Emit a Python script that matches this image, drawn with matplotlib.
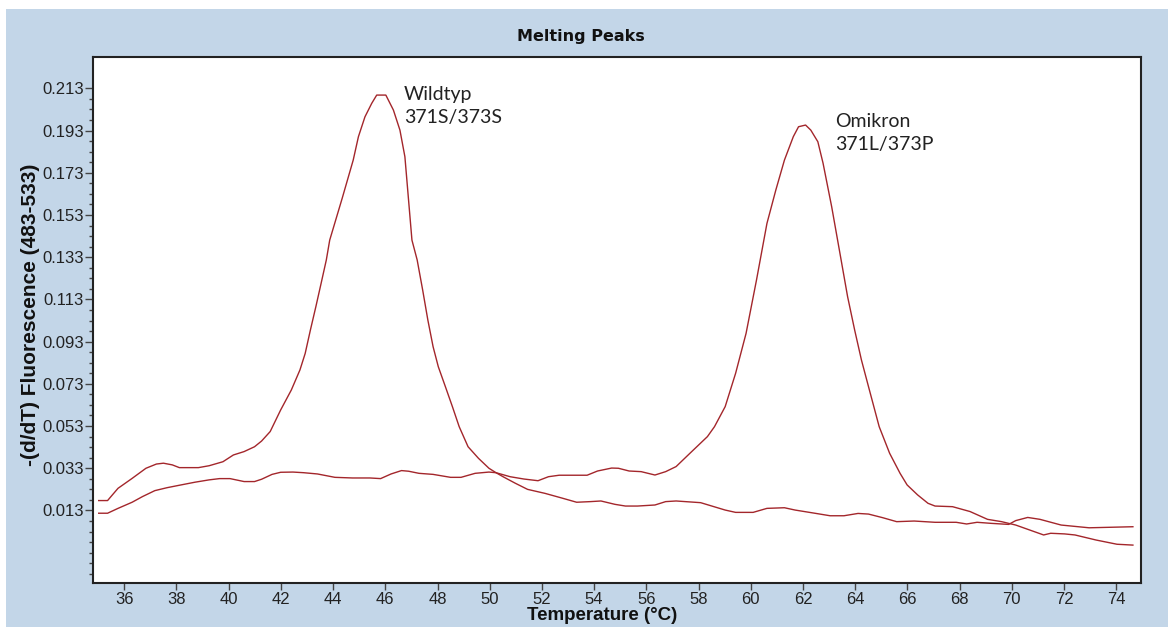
import matplotlib
matplotlib.use("Agg")
import matplotlib.pyplot as plt
from matplotlib import font_manager
from matplotlib.patches import Rectangle
from matplotlib.ticker import FixedLocator, NullFormatter

# ---------------- data ----------------
wild_x = [35.02, 35.36, 35.49, 35.76, 36.30, 36.83, 37.23, 37.50, 37.84, 38.11, 38.84, 39.25,
          39.78, 40.18, 40.59, 40.99, 41.26, 41.59, 41.99, 42.40, 42.73, 42.93, 43.13, 43.34,
          43.54, 43.74, 43.87, 44.35, 44.77, 44.97, 45.22, 45.48, 45.67, 46.02, 46.31, 46.56, 46.75,
          47.02, 47.22, 47.43, 47.63, 47.83, 48.03, 48.30, 48.57, 48.83, 49.17, 49.57, 49.97,
          50.24, 50.51, 50.98, 51.45, 52.12, 52.79, 53.33, 53.86, 54.26, 54.80, 55.20, 55.66,
          56.33, 56.74, 57.14, 58.08, 59.02, 59.42, 60.09, 60.62, 61.29, 61.70, 62.50, 63.04,
          63.57, 64.11, 64.51, 65.05, 65.59, 66.26, 67.06, 67.87, 68.27, 68.67, 69.21, 69.88,
          70.15, 70.61, 71.08, 71.89, 72.96, 74.64]
wild_y = [0.0177, 0.0177, 0.0196, 0.0235, 0.0282, 0.0330, 0.0350, 0.0354, 0.0346, 0.0333, 0.0333, 0.0342,
          0.0361, 0.0393, 0.0409, 0.0432, 0.0459, 0.0504, 0.0606, 0.0701, 0.0796, 0.0874, 0.0985, 0.1096,
          0.1206, 0.1317, 0.1411, 0.1610, 0.1790, 0.1901, 0.1995, 0.2059, 0.2098, 0.2098, 0.2027, 0.1932, 0.1806,
          0.1411, 0.1317, 0.1175, 0.1032, 0.0906, 0.0811, 0.0717, 0.0622, 0.0527, 0.0432, 0.0377, 0.0330,
          0.0309, 0.0290, 0.0259, 0.0230, 0.0211, 0.0188, 0.0169, 0.0172, 0.0175, 0.0159, 0.0151, 0.0151,
          0.0156, 0.0172, 0.0175, 0.0167, 0.0132, 0.0121, 0.0121, 0.0140, 0.0143, 0.0132, 0.0116, 0.0105,
          0.0105, 0.0116, 0.0113, 0.0096, 0.0077, 0.0080, 0.0074, 0.0074, 0.0066, 0.0074, 0.0069, 0.0064,
          0.0082, 0.0097, 0.0088, 0.0061, 0.0048, 0.0053]

omi_x = [35.02, 35.36, 35.76, 36.30, 36.70, 37.17, 37.64, 38.17, 38.71, 39.25, 39.65, 40.05,
         40.59, 40.99, 41.26, 41.66, 41.99, 42.46, 42.87, 43.40, 44.07, 44.74, 45.41, 45.82,
         46.22, 46.62, 46.89, 47.29, 47.83, 48.50, 48.90, 49.44, 49.97, 50.24, 50.78, 51.31,
         51.85, 52.25, 52.66, 53.19, 53.73, 54.13, 54.67, 54.93, 55.34, 55.80, 56.33, 56.74,
         57.14, 57.67, 58.34, 58.61, 59.02, 59.42, 59.82, 60.22, 60.62, 60.96, 61.29, 61.63,
         61.83, 62.10, 62.30, 62.57, 62.77, 63.10, 63.44, 63.71, 63.98, 64.24, 64.51, 64.92,
         65.32, 65.72, 65.99, 66.39, 66.79, 67.06, 67.73, 68.40, 69.07, 69.61, 70.15, 71.22,
         71.49, 72.02, 72.42, 73.23, 74.03, 74.64]
omi_y = [0.0117, 0.0117, 0.0140, 0.0169, 0.0196, 0.0224, 0.0238, 0.0251, 0.0264, 0.0275, 0.0281, 0.0281,
         0.0267, 0.0267, 0.0278, 0.0301, 0.0311, 0.0312, 0.0309, 0.0303, 0.0287, 0.0284, 0.0284, 0.0281,
         0.0303, 0.0319, 0.0316, 0.0306, 0.0301, 0.0287, 0.0287, 0.0306, 0.0312, 0.0309, 0.0290, 0.0279,
         0.0271, 0.0290, 0.0297, 0.0297, 0.0297, 0.0317, 0.0331, 0.0330, 0.0317, 0.0314, 0.0298, 0.0314,
         0.0338, 0.0401, 0.0480, 0.0527, 0.0622, 0.0780, 0.0969, 0.1222, 0.1490, 0.1648, 0.1790, 0.1901,
         0.1948, 0.1956, 0.1932, 0.1877, 0.1775, 0.1569, 0.1332, 0.1143, 0.0985, 0.0843, 0.0717, 0.0527,
         0.0401, 0.0306, 0.0251, 0.0204, 0.0164, 0.0151, 0.0148, 0.0125, 0.0088, 0.0077, 0.0061, 0.0014,
         0.0022, 0.0019, 0.0014, -0.0010, -0.0030, -0.0034]

x_ticks = [36, 38, 40, 42, 44, 46, 48, 50, 52, 54, 56, 58, 60, 62, 64, 66, 68, 70, 72, 74]
y_ticks = [0.013, 0.033, 0.053, 0.073, 0.093, 0.113, 0.133, 0.153, 0.173, 0.193, 0.213]
y_labels = ["0.013", "0.033", "0.053", "0.073", "0.093", "0.113", "0.133", "0.153", "0.173", "0.193", "0.213"]
y_minor = [0.213 - 0.005 * i for i in range(47)]

title = "Melting Peaks"
xlabel = "Temperature (°C)"
ylabel = "-(d/dT) Fluorescence (483-533)"
label_wild = "Wildtyp\n371S/373S"
label_omi = "Omikron\n371L/373P"

# ---------------- style ----------------
names = {f.name for f in font_manager.fontManager.ttflist}
narrow = "Liberation Sans Narrow" if "Liberation Sans Narrow" in names else "Liberation Sans"
tick_size = 13 if narrow == "Liberation Sans Narrow" else 12

bg = "#C3D6E8"
line_col = "#A3262B"

W, H = 1168, 627
fig = plt.figure(figsize=(W / 100, H / 100), dpi=100, facecolor="white")
fig.patches.append(Rectangle((6 / W, 0), 1 - 6 / W, 1 - 9 / H, transform=fig.transFigure,
                             facecolor=bg, edgecolor="none", zorder=-10))

ax = fig.add_axes([92.7 / W, 1 - 583.3 / H, (1141 - 92.7) / W, (583.3 - 57.3) / H])
ax.set_zorder(5)
ax.set_facecolor("white")
ax.plot(wild_x, wild_y, color=line_col, lw=1.0)
ax.plot(omi_x, omi_y, color=line_col, lw=1.0)

ax.set_xlim(34.79, 74.95)
ax.set_ylim(-0.0215, 0.2277)

ax.set_xticks(x_ticks)
ax.set_xticklabels([str(v) for v in x_ticks])
ax.set_yticks(y_ticks)
ax.set_yticklabels(y_labels)
ax.yaxis.set_minor_locator(FixedLocator([v for v in y_minor if v > -0.0215]))
ax.yaxis.set_minor_formatter(NullFormatter())

ax.tick_params(axis="both", which="major", direction="out", color="#444444", width=1,
               labelsize=tick_size, labelcolor="#222222")
ax.tick_params(axis="x", which="major", length=5, pad=1)
ax.tick_params(axis="y", which="major", length=6, pad=0.5)
ax.tick_params(axis="y", which="minor", length=3, direction="out", color="#444444", width=1)
for lab in ax.get_xticklabels() + ax.get_yticklabels():
    lab.set_fontfamily(narrow)

for s in ax.spines.values():
    s.set_color("#222222")
    s.set_linewidth(1.5)

fig.text(580.5 / W, 1 - 36.7 / H, title, ha="center", va="center", fontsize=11.5,
         fontweight="bold", family="DejaVu Sans", color="#111111", zorder=10)
fig.text(602 / W, 1 - 616 / H, xlabel, ha="center", va="center", fontsize=13.5,
         fontweight="bold", family=narrow, color="#111111", zorder=10)
fig.text(31 / W, 1 - 315 / H, ylabel, ha="center", va="center", rotation=90, fontsize=15,
         fontweight="bold", family=narrow, color="#111111", zorder=10)

fig.text(404 / W, 1 - 86 / H, label_wild, ha="left", va="top", fontsize=14, family="Lato",
         color="#222222", linespacing=1.45, zorder=10)
fig.text(835 / W, 1 - 113 / H, label_omi, ha="left", va="top", fontsize=14, family="Lato",
         color="#222222", linespacing=1.45, zorder=10)

fig.savefig("out.png", dpi=100, facecolor="white")
